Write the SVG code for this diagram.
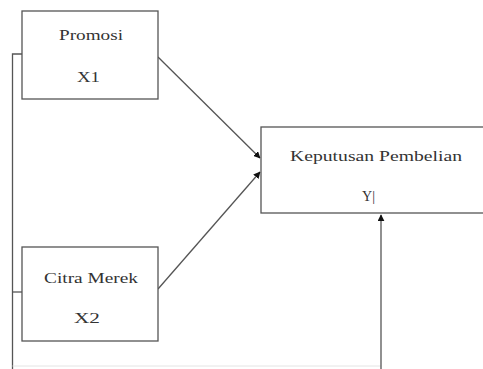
<svg xmlns="http://www.w3.org/2000/svg" width="483" height="369" viewBox="0 0 483 369">
<style>
.box{fill:#fff;stroke:#555;stroke-width:1.3}
.ln{fill:none;stroke:#555;stroke-width:1.3}
.t{font-family:"Liberation Serif","Times New Roman",serif;font-size:14px;fill:#333}
</style>
<defs>
<marker id="ah" viewBox="0 0 10 10" refX="9" refY="5" markerWidth="7" markerHeight="7" markerUnits="userSpaceOnUse" orient="auto">
<path d="M0,0 L10,5 L0,10 z" fill="#111"/>
</marker>
</defs>
<rect width="483" height="369" fill="#fff"/>
<g id="connectors">
<polyline class="ln" points="22,54 12.5,54 12.5,369"/>
<line class="ln" x1="12.5" y1="292" x2="22" y2="292"/>
<line x1="12.5" y1="366" x2="381" y2="366" stroke="#e4e4e4" stroke-width="1"/>
<line class="ln" x1="381" y1="369" x2="381" y2="215" marker-end="url(#ah)"/>
<line class="ln" x1="158" y1="57" x2="260" y2="158" marker-end="url(#ah)"/>
<line class="ln" x1="158" y1="289" x2="260" y2="172" marker-end="url(#ah)"/>
</g>
<g id="promosi">
<rect class="box" x="22" y="11" width="136" height="88"/>
<text class="t" x="59" y="40" textLength="64" lengthAdjust="spacingAndGlyphs">Promosi</text>
<text class="t" x="77" y="82" textLength="23" lengthAdjust="spacingAndGlyphs">X1</text>
</g>
<g id="citra">
<rect class="box" x="22" y="247" width="136" height="94"/>
<text class="t" x="44" y="283" textLength="94" lengthAdjust="spacingAndGlyphs">Citra Merek</text>
<text class="t" x="74" y="323" textLength="26" lengthAdjust="spacingAndGlyphs">X2</text>
</g>
<g id="keputusan">
<rect class="box" x="261" y="127" width="230" height="86"/>
<text class="t" x="290" y="161" textLength="172" lengthAdjust="spacingAndGlyphs">Keputusan Pembelian</text>
<text class="t" x="362" y="201" textLength="13" lengthAdjust="spacingAndGlyphs">Y|</text>
</g>
</svg>
